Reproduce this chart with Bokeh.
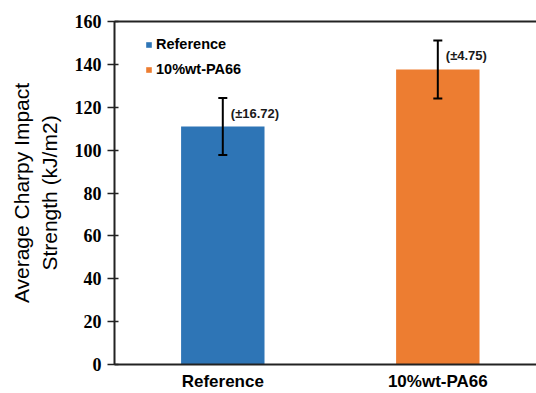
from bokeh.plotting import figure
from bokeh.models import (ColumnDataSource, Range1d, FixedTicker, LinearAxis,
                          Whisker, TeeHead, Legend, LegendItem)
from bokeh.core.properties import value
from bokeh.embed import file_html
from bokeh.resources import INLINE

categories = ["Reference", "10%wt-PA66"]
strength = [111.0, 137.6]
error_drawn = [13.3, 13.5]
error_labels = ["(\u00b116.72)", "(\u00b14.75)"]
bar_colors = ["#2E75B6", "#ED7D31"]
y_ticks = [0, 20, 40, 60, 80, 100, 120, 140, 160]

idx = list(range(len(categories)))
src = ColumnDataSource(dict(
    x=idx, cat=categories, v=strength, color=bar_colors,
    upper=[a + b for a, b in zip(strength, error_drawn)],
    lower=[a - b for a, b in zip(strength, error_drawn)],
    lab=error_labels,
))

p = figure(width=536, height=393, output_backend="svg", toolbar_location=None,
           x_range=Range1d(-0.5037, 1.459), y_range=Range1d(0, 160),
           min_border_left=114, min_border_right=0, min_border_top=21,
           min_border_bottom=27)
p.outline_line_color = None
p.grid.visible = False
p.background_fill_color = "white"

bars = p.vbar(x="x", top="v", width=0.388, source=src, fill_color="color",
              line_color=None)

w = Whisker(source=src, base="x", upper="upper", lower="lower",
            dimension="height", line_color="black", line_width=2,
            upper_head=TeeHead(size=9, line_width=2, line_color="black"),
            lower_head=TeeHead(size=9, line_width=2, line_color="black"),
            level="overlay")
p.add_layout(w)

p.text(x="x", y="upper", text="lab", source=src, x_offset=8, y_offset=15,
       text_font=value("Liberation Sans"), text_font_style="bold",
       text_font_size="13px", text_baseline="middle", text_align="left",
       text_color="#1a1a1a")

# axes
xa = p.xaxis[0]
xa.ticker = FixedTicker(ticks=idx)
xa.major_label_overrides = {i: c for i, c in zip(idx, categories)}
xa.major_tick_line_color = None
xa.minor_tick_line_color = None
xa.major_tick_out = 0
xa.major_tick_in = 0
xa.minor_tick_out = 0
xa.major_label_standoff = 7
xa.major_label_text_font = "Liberation Sans"
xa.major_label_text_font_style = "bold"
xa.major_label_text_font_size = "17px"
xa.major_label_text_color = "black"
xa.axis_line_color = "#222222"
xa.axis_line_width = 2

ya = p.yaxis[0]
ya.ticker = FixedTicker(ticks=y_ticks)
ya.minor_tick_line_color = None
ya.major_tick_out = 7
ya.major_tick_in = 4
ya.major_tick_line_width = 1.5
ya.major_tick_line_color = "#222222"
ya.major_label_standoff = 6
ya.major_label_text_font = "Liberation Serif"
ya.major_label_text_font_style = "bold"
ya.major_label_text_font_size = "18px"
ya.major_label_text_color = "black"
ya.axis_line_color = "#222222"
ya.axis_line_width = 2
ya.axis_label = "Average Charpy Impact\nStrength (kJ/m2)"
ya.axis_label_text_font = "Liberation Sans"
ya.axis_label_text_font_style = "normal"
ya.axis_label_text_font_size = "21px"
ya.axis_label_text_color = "black"
ya.axis_label_standoff = 11

top = LinearAxis(ticker=FixedTicker(ticks=[]), major_label_text_font_size="0px",
                 major_tick_line_color=None, minor_tick_line_color=None,
                 axis_line_color="#222222", axis_line_width=2)
p.add_layout(top, "above")

legend = Legend(items=[LegendItem(label=categories[i], renderers=[bars], index=i)
                       for i in idx],
                location=(31, 285))
legend.glyph_width = 7
legend.glyph_height = 7
legend.label_height = 20
legend.spacing = 5
legend.padding = 0
legend.margin = 0
legend.label_standoff = 4
legend.border_line_color = None
legend.background_fill_alpha = 0
legend.label_text_font = "Liberation Sans"
legend.label_text_font_style = "bold"
legend.label_text_font_size = "14.5px"
legend.label_text_color = "black"
p.add_layout(legend)

open("out.html", "w").write(file_html(p, INLINE))
